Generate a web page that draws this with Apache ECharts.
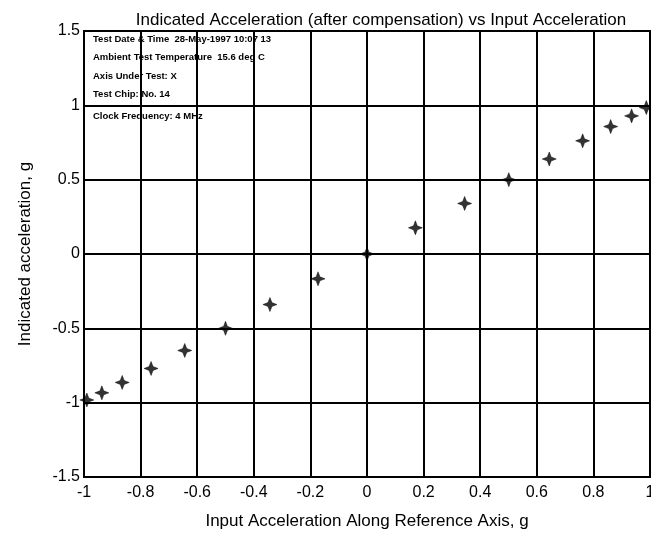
<!DOCTYPE html>
<html>
<head>
<meta charset="utf-8">
<script src="https://cdn.jsdelivr.net/npm/echarts@6/dist/echarts.min.js"></script>
<style>
  html, body { margin: 0; padding: 0; background: #fff; }
  #chart { width: 651px; height: 535px; }
</style>
</head>
<body>
<div id="chart"></div>
<script>
// input acceleration (reference axis), g
var inputAcc = [-0.99, -0.937, -0.865, -0.763, -0.644, -0.5, -0.343, -0.173, 0,
                0.171, 0.345, 0.501, 0.644, 0.762, 0.861, 0.935, 0.987];
// indicated acceleration after compensation, g
var indicatedAcc = [-0.982, -0.934, -0.864, -0.77, -0.649, -0.5, -0.34, -0.167, 0,
                    0.176, 0.34, 0.5, 0.639, 0.761, 0.857, 0.929, 0.985];
var testInfo = [
  'Test Date & Time  28-May-1997 10:07 13',
  'Ambient Test Temperature  15.6 deg C',
  'Axis Under Test: X',
  'Test Chip: No. 14',
  'Clock Frequency: 4 MHz'
];

var chartDom = document.getElementById('chart');
var myChart = echarts.init(chartDom);

var points = inputAcc.map(function (x, i) { return [x, indicatedAcc[i]]; });

var infoY = [40, 58, 77, 95, 117];
var graphics = testInfo.map(function (t, i) {
  return {
    type: 'text',
    left: 93,
    top: infoY[i] - 6,
    style: { text: t, fill: '#000', font: 'bold 9.5px "Liberation Sans", Arial, sans-serif' }
  };
});

var font = 'Liberation Sans, Arial, sans-serif';
var nameFont = { color: '#000', fontSize: 17, fontFamily: font };
var labelFont = { color: '#000', fontSize: 16, fontFamily: font };

var option = {
  backgroundColor: '#fff',
  animation: false,
  title: {
    text: 'Indicated Acceleration (after compensation) vs Input Acceleration',
    left: 376,
    textAlign: 'center',
    top: 7,
    textStyle: { color: '#000', fontSize: 17, fontWeight: 'normal', fontFamily: font }
  },
  grid: {
    left: 84, right: 1, top: 31, bottom: 58,
    outerBoundsMode: 'none', containLabel: false,
    show: true, borderColor: '#000', borderWidth: 2
  },
  xAxis: {
    type: 'value',
    min: -1, max: 1, interval: 0.2,
    name: 'Input Acceleration Along Reference Axis, g',
    nameLocation: 'middle',
    nameGap: 36,
    nameTextStyle: nameFont,
    axisLine: { lineStyle: { color: '#000', width: 2 } },
    axisTick: { show: false },
    axisLabel: Object.assign({ margin: 8, hideOverlap: false,
      formatter: function (v) { return String(Math.round(v * 10) / 10); } }, labelFont),
    splitLine: { lineStyle: { color: '#000', width: 2 } }
  },
  yAxis: {
    type: 'value',
    min: -1.5, max: 1.5, interval: 0.5,
    name: 'Indicated acceleration, g',
    nameLocation: 'middle',
    nameGap: 50,
    nameTextStyle: nameFont,
    axisLine: { lineStyle: { color: '#000', width: 2 } },
    axisTick: { show: false },
    axisLabel: Object.assign({ margin: 4 }, labelFont),
    splitLine: { lineStyle: { color: '#000', width: 2 } }
  },
  graphic: graphics,
  series: [
    {
      type: 'scatter',
      data: points,
      symbol: 'path://M0,-6 L1.5,-2.1 L2.1,-1.5 L6,0 L2.1,1.5 L1.5,2.1 L0,6 L-1.5,2.1 L-2.1,1.5 L-6,0 L-2.1,-1.5 L-1.5,-2.1Z',
      symbolSize: 14,
      itemStyle: { color: '#000', borderColor: '#000', borderWidth: 0.6 },
      clip: false
    }
  ]
};

option && myChart.setOption(option);
</script>
</body>
</html>
